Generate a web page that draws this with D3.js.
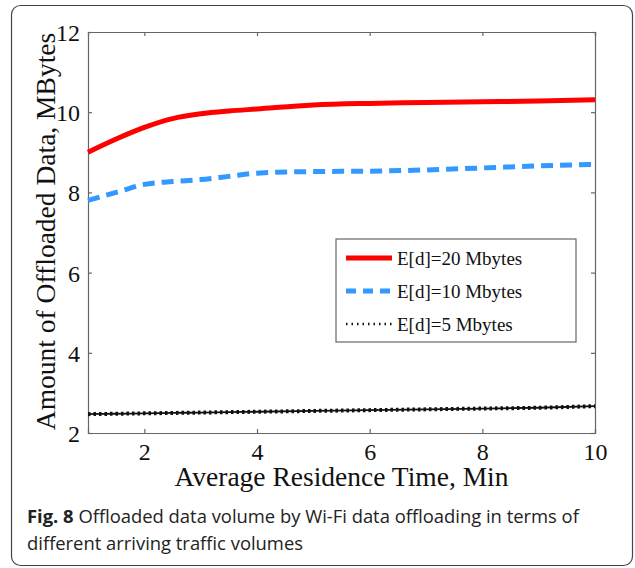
<!DOCTYPE html>
<html>
<head>
<meta charset="utf-8">
<script src="https://cdn.jsdelivr.net/npm/d3@7"></script>
<style>
  body { margin: 0; background: #fff; }
  .serif { font-family: "Liberation Serif", "Times New Roman", serif; fill: #111; }
</style>
</head>
<body>
<div id="chart"></div>
<script>

// ---- data ----
const residenceTime = [1, 1.5, 2, 2.5, 3, 3.5, 4, 5, 6, 7, 8, 9, 10];
const volume20 = [9.0, 9.33, 9.62, 9.84, 9.96, 10.03, 10.08, 10.18, 10.22, 10.24, 10.26, 10.28, 10.31];
const volume10 = [7.8, 8.0, 8.2, 8.27, 8.32, 8.4, 8.48, 8.52, 8.53, 8.56, 8.61, 8.66, 8.7];
const volume5 = [2.47, 2.48, 2.49, 2.5, 2.51, 2.52, 2.53, 2.55, 2.57, 2.59, 2.61, 2.63, 2.67];
const xTicks = [2, 4, 6, 8, 10];
const yTicks = [2, 4, 6, 8, 10, 12];
const legendLabels = ["E[d]=20 Mbytes", "E[d]=10 Mbytes", "E[d]=5 Mbytes"];

const W = 635, H = 568;
const margin = {top: 32, right: 40, bottom: 135, left: 88};
const width = W - margin.left - margin.right;
const height = H - margin.top - margin.bottom;

const svg = d3.select("#chart").append("svg")
    .attr("width", W)
    .attr("height", H);

// figure frame
svg.append("rect")
    .attr("x", 11.5).attr("y", 5.5)
    .attr("width", 621).attr("height", 560)
    .attr("rx", 9)
    .attr("fill", "none")
    .attr("stroke", "#444")
    .attr("stroke-width", 1.2);

const g = svg.append("g")
    .attr("transform", `translate(${margin.left},${margin.top})`);

const x = d3.scaleLinear().domain([1, 10]).range([0, width]);
const y = d3.scaleLinear().domain([2, 12]).range([height, 0]);

// axes, matlab style box with inward ticks
const tick = 4;
g.append("g").attr("transform", `translate(0,${height})`)
    .call(d3.axisBottom(x).tickValues(xTicks).tickSize(-tick).tickPadding(10))
    .call(ax => ax.selectAll("text").attr("class", "serif").style("font-size", "24px").attr("dy", "0.71em"));
g.append("g")
    .call(d3.axisTop(x).tickValues(xTicks).tickSize(-tick).tickFormat(""));
g.append("g")
    .call(d3.axisLeft(y).tickValues(yTicks).tickSize(-tick).tickPadding(8))
    .call(ax => ax.selectAll("text").attr("class", "serif").style("font-size", "24px").attr("dy", "0.35em"));
g.append("g").attr("transform", `translate(${width},0)`)
    .call(d3.axisRight(y).tickValues(yTicks).tickSize(-tick).tickFormat(""));

g.selectAll(".domain, .tick line").attr("stroke", "#666").attr("stroke-width", 1.2);
g.selectAll(".tick text").attr("fill", "#111").style("font-family", "Liberation Serif, serif");

// lines
const line = d3.line()
    .x((d, i) => x(residenceTime[i]))
    .y(d => y(d))
    .curve(d3.curveMonotoneX);

g.append("path").datum(volume20)
    .attr("d", line)
    .attr("fill", "none")
    .attr("stroke", "#ff0000")
    .attr("stroke-width", 5);

g.append("path").datum(volume10)
    .attr("d", line)
    .attr("fill", "none")
    .attr("stroke", "#3399ff")
    .attr("stroke-width", 5)
    .attr("stroke-dasharray", "12,7");

g.append("path").datum(volume5)
    .attr("d", line)
    .attr("fill", "none")
    .attr("stroke", "#111")
    .attr("stroke-width", 1.8);
g.append("path").datum(volume5)
    .attr("d", line)
    .attr("fill", "none")
    .attr("stroke", "#111")
    .attr("stroke-width", 4)
    .attr("stroke-dasharray", "2.5,3");

// legend
const legend = svg.append("g").attr("transform", "translate(336,239)");
legend.append("rect")
    .attr("width", 240).attr("height", 103)
    .attr("fill", "#fff")
    .attr("stroke", "#666")
    .attr("stroke-width", 1.2);

const legendStyles = [
    {color: "#ff0000", w: 5, dash: null},
    {color: "#3399ff", w: 5, dash: "10,7"},
    {color: "#111", w: 2.5, dash: "1.5,4"}
];
legendLabels.forEach((lab, i) => {
    const ly = 19 + i * 33;
    const st = legendStyles[i];
    legend.append("line")
        .attr("x1", 10).attr("x2", 56)
        .attr("y1", ly).attr("y2", ly)
        .attr("stroke", st.color)
        .attr("stroke-width", st.w)
        .attr("stroke-dasharray", st.dash);
    legend.append("text")
        .attr("class", "serif")
        .attr("x", 61).attr("y", ly)
        .attr("dy", "0.35em")
        .style("font-size", "19px")
        .text(lab);
});

// axis titles
svg.append("text")
    .attr("class", "serif")
    .attr("x", margin.left + width / 2)
    .attr("y", 486)
    .attr("text-anchor", "middle")
    .style("font-size", "27.5px")
    .text("Average Residence Time, Min");

svg.append("text")
    .attr("class", "serif")
    .attr("transform", `translate(55,${margin.top + height / 2 - 1}) rotate(-90)`)
    .attr("text-anchor", "middle")
    .style("font-size", "27.5px")
    .text("Amount of Offloaded Data, MBytes");

// caption
const cap = svg.append("text")
    .attr("x", 27).attr("y", 523)
    .style("font-family", "'Open Sans', sans-serif")
    .style("font-size", "18.4px")
    .attr("fill", "#222");
cap.append("tspan").style("font-weight", "bold").text("Fig. 8");
cap.append("tspan").text(" Offloaded data volume by Wi-Fi data offloading in terms of");
svg.append("text")
    .attr("x", 27).attr("y", 550)
    .style("font-family", "'Open Sans', sans-serif")
    .style("font-size", "18.4px")
    .attr("fill", "#222")
    .text("different arriving traffic volumes");

</script>
</body>
</html>
